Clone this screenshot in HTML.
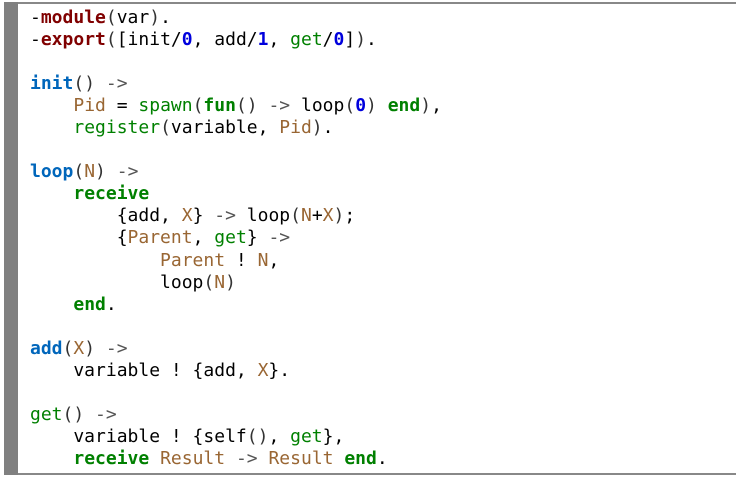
<!DOCTYPE html>
<html><head><meta charset="utf-8"><style>
html,body{margin:0;padding:0;background:#fff;width:736px;height:478px;overflow:hidden}
.box{position:absolute;left:4px;top:2px;width:732px;height:473px;border-top:2px solid #888;border-bottom:2px solid #888;box-sizing:border-box}
.bar{position:absolute;left:4px;top:2px;width:14px;height:473px;background:#808080}
pre{position:absolute;left:30px;top:7px;margin:0;font-family:"DejaVu Sans Mono","Liberation Mono",monospace;font-size:18px;line-height:22.05px;color:#000}
.d{color:#800000;font-weight:bold}
.f{color:#0066bb;font-weight:bold}
.n{color:#0000dd;font-weight:bold}
.a{color:#008000}
.k{color:#008000;font-weight:bold}
.v{color:#996633}
.o{color:#555}
.p{color:#333}
</style></head><body>
<div class="box"></div><div class="bar"></div>
<pre>-<span class="d">module</span><span class="p">(</span>var<span class="p">)</span>.
-<span class="d">export</span><span class="p">(</span>[init/<span class="n">0</span>, add/<span class="n">1</span>, <span class="a">get</span>/<span class="n">0</span>]<span class="p">)</span>.

<span class="f">init</span><span class="p">()</span> <span class="o">-&gt;</span>
    <span class="v">Pid</span> = <span class="a">spawn</span><span class="p">(</span><span class="k">fun</span><span class="p">()</span> <span class="o">-&gt;</span> loop<span class="p">(</span><span class="n">0</span><span class="p">)</span> <span class="k">end</span><span class="p">)</span>,
    <span class="a">register</span><span class="p">(</span>variable, <span class="v">Pid</span><span class="p">)</span>.

<span class="f">loop</span><span class="p">(</span><span class="v">N</span><span class="p">)</span> <span class="o">-&gt;</span>
    <span class="k">receive</span>
        {add, <span class="v">X</span>} <span class="o">-&gt;</span> loop<span class="p">(</span><span class="v">N</span>+<span class="v">X</span><span class="p">)</span>;
        {<span class="v">Parent</span>, <span class="a">get</span>} <span class="o">-&gt;</span>
            <span class="v">Parent</span> ! <span class="v">N</span>,
            loop<span class="p">(</span><span class="v">N</span><span class="p">)</span>
    <span class="k">end</span>.

<span class="f">add</span><span class="p">(</span><span class="v">X</span><span class="p">)</span> <span class="o">-&gt;</span>
    variable ! {add, <span class="v">X</span>}.

<span class="a">get</span><span class="p">()</span> <span class="o">-&gt;</span>
    variable ! {self<span class="p">()</span>, <span class="a">get</span>},
    <span class="k">receive</span> <span class="v">Result</span> <span class="o">-&gt;</span> <span class="v">Result</span> <span class="k">end</span>.</pre>
</body></html>
